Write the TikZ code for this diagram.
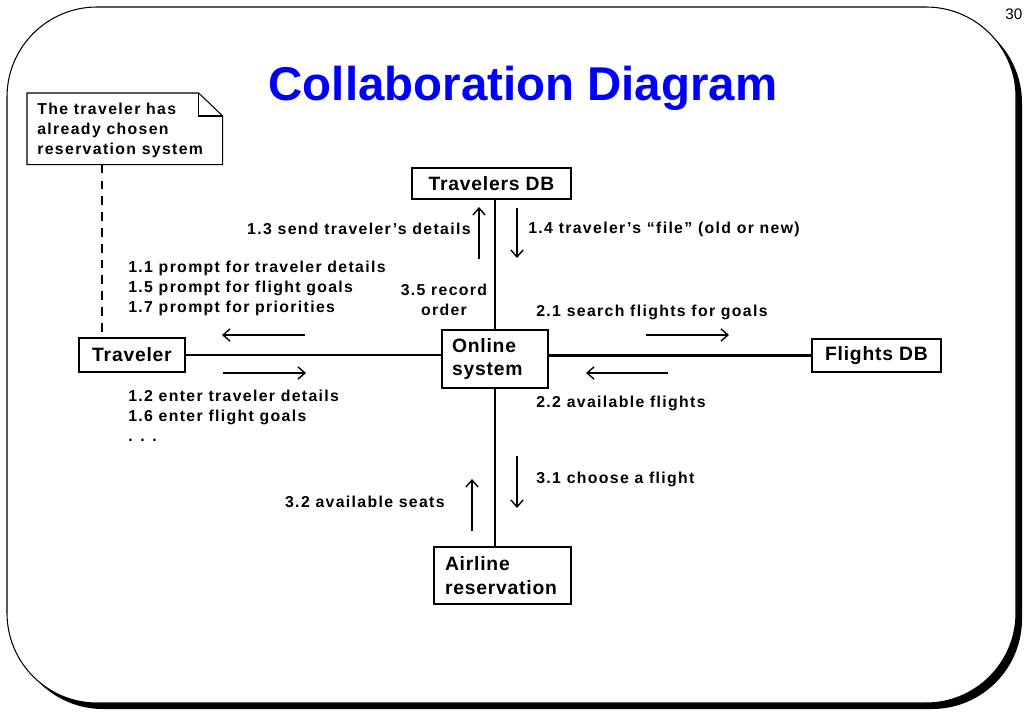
\documentclass[tikz,border=0pt]{standalone}
\usepackage{fontspec}
\setmainfont{Liberation Sans}
\newfontfamily\lblfont[LetterSpace=8.5]{Liberation Sans}
\newfontfamily\boxfont[LetterSpace=4]{Liberation Sans}
\usetikzlibrary{arrows.meta}
\definecolor{titleblue}{RGB}{0,0,255}
\tikzset{
  box/.style={draw, line width=0.6pt, inner sep=0pt, font=\boxfont\bfseries\fontsize{11}{13.3}\selectfont},
  lbl/.style={inner sep=0pt, font=\lblfont\bfseries\fontsize{9}{11.2}\selectfont},
  conn/.style={line width=1.2pt},
  arr/.style={line width=0.8pt, -{Straight Barb[length=4pt,width=7pt]}},
}
\begin{document}
\begin{tikzpicture}[x=0.02cm,y=-0.02cm]
\useasboundingbox (0,0) rectangle (1024,713);
% frame with shadow
\fill[black, rounded corners=1.8cm] (13,13) rectangle (1022,709);
\filldraw[fill=white, draw=black, line width=0.6pt, rounded corners=1.8cm] (7,7) rectangle (1016,703);
\node[anchor=west, inner sep=0pt, font=\fontsize{8.7}{10}\selectfont] (pg) at (1005,14) {30};
% title
\node[font=\bfseries\fontsize{27}{30}\selectfont, text=titleblue, inner sep=0pt] (title) at (523,88) {Collaboration Diagram};
% note
\node[anchor=north west, inner sep=0pt, minimum width=3.9cm, minimum height=1.42cm] (note) at (27,93) {};
\node[lbl, anchor=north west, align=left] (notetext) at (37,103) {The traveler has\\already chosen\\reservation system};
\draw[line width=0.6pt] (note.north west) -- ([xshift=-0.48cm]note.north east) -- ([yshift=-0.46cm]note.north east) -- (note.south east) -- (note.south west) -- cycle;
\draw[line width=0.6pt] ([xshift=-0.48cm]note.north east) -- ([xshift=-0.48cm,yshift=-0.46cm]note.north east) -- ([yshift=-0.46cm]note.north east);
% boxes
\node[box, minimum width=2.12cm, minimum height=0.68cm] (trav) at (132,355) {Traveler};
\node[box, minimum width=2.12cm, minimum height=1.16cm, text width=1.72cm, align=left] (online) at (495,359) {Online\\system};
\node[box, minimum width=3.18cm, minimum height=0.62cm] (tdb) at (491.5,183.5) {Travelers DB};
\node[box, minimum width=2.58cm, minimum height=0.66cm] (fdb) at (876.5,355.5) {Flights DB};
\node[box, minimum width=2.74cm, minimum height=1.14cm, text width=2.3cm, align=left] (air) at (502.5,575.5) {Airline\\reservation};
% connectors
\draw[line width=0.6pt, dashed, dash pattern=on 5pt off 4pt] (note.south -| 102,0) -- (trav.north -| 102,0);
\draw[conn] (trav.east) -- (trav.east -| online.west);
\draw[conn] (fdb.west) -- (fdb.west -| online.east);
\draw[conn] (online.north) -- (online.north |- tdb.south);
\draw[conn] (online.south) -- (online.south |- air.north);
% message arrows
\coordinate (a13s) at (479,259); \coordinate (a13e) at (479,207);
\coordinate (a14s) at (517,208); \coordinate (a14e) at (517,258);
\coordinate (a11s) at (305,335); \coordinate (a11e) at (222,335);
\coordinate (a12s) at (223,373); \coordinate (a12e) at (306,373);
\coordinate (a21s) at (646,335); \coordinate (a21e) at (729,335);
\coordinate (a22s) at (668,373); \coordinate (a22e) at (586,373);
\coordinate (a31s) at (517,456); \coordinate (a31e) at (517,508);
\coordinate (a32s) at (472,531); \coordinate (a32e) at (472,479);
\draw[arr] (a13s) -- (a13e);
\draw[arr] (a14s) -- (a14e);
\draw[arr] (a11s) -- (a11e);
\draw[arr] (a12s) -- (a12e);
\draw[arr] (a21s) -- (a21e);
\draw[arr] (a22s) -- (a22e);
\draw[arr] (a31s) -- (a31e);
\draw[arr] (a32s) -- (a32e);
% labels
\node[lbl, anchor=east] (l13) at (471,229) {1.3 send traveler’s details};
\node[lbl, anchor=west] (l14) at (528,229) {1.4 traveler’s “file” (old or new)};
\node[lbl, anchor=north west, align=left] (l11) at (128,261) {1.1 prompt for traveler details\\1.5 prompt for flight goals\\1.7 prompt for priorities};
\node[lbl, align=center] (l35) at (444,300) {3.5 record\\order};
\node[lbl, anchor=west] (l21) at (536,312) {2.1 search flights for goals};
\node[lbl, anchor=west] (l22) at (536,403) {2.2 available flights};
\node[lbl, anchor=north west, align=left] (l12) at (128,390) {1.2 enter traveler details\\1.6 enter flight goals\\. . .};
\node[lbl, anchor=west] (l31) at (536,479) {3.1 choose a flight};
\node[lbl, anchor=east] (l32) at (445,502) {3.2 available seats};
\end{tikzpicture}
\end{document}
